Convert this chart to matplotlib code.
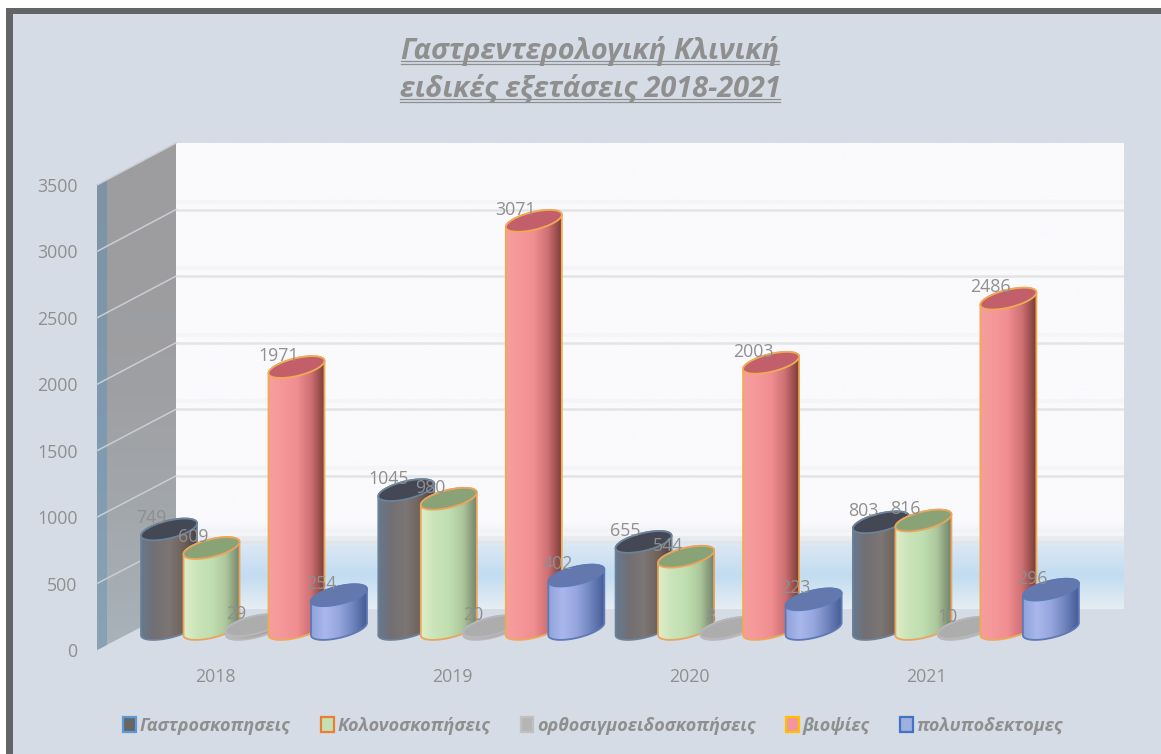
import matplotlib
matplotlib.use('Agg')
import matplotlib.pyplot as plt
import numpy as np
from matplotlib.colors import LinearSegmentedColormap
from matplotlib.patches import Patch, Polygon, Rectangle

years = ['2018', '2019', '2020', '2021']
series_names = ['Γαστροσκοπησεις', 'Κολονοσκοπήσεις', 'ορθοσιγμοειδοσκοπήσεις',
                'βιοψίες', 'πολυποδεκτομες']
gastro = [749, 1045, 655, 803]
colono = [609, 980, 544, 816]
ortho = [29, 20, 8, 10]
biopsies = [1971, 3071, 2003, 2486]
polyp = [254, 402, 223, 296]
y_ticks = [0, 500, 1000, 1500, 2000, 2500, 3000, 3500]

# body gradient left to right, top cap, rim, legend fill, legend edge
styles = [
    (['#66788f', '#736f72', '#7c7675', '#6f625b', '#45434a'], '#434854', '#6c8299', '#666666', '#5b9bd5'),
    (['#dfeec8', '#c9e4b8', '#c0dfb0', '#adc79c', '#73836a'], '#8aa376', '#eba45c', '#c5e0b4', '#ed7d31'),
    (['#bdbdbe', '#b4b4b5', '#a9a9aa', '#a6a6a6', '#a0a0a0'], '#adadae', '#b8b8ba', '#b5b5b5', '#c0c0c0'),
    (['#f59f9c', '#f6979a', '#f08e91', '#cf7074', '#7a3c36'], '#c25f6b', '#f0aa55', '#f4959b', '#ffc000'),
    (['#8ea3da', '#a9b7ec', '#96a6de', '#6f84bd', '#445b96'], '#6478ae', '#5f79b4', '#9db0e0', '#4472c4'),
]
wall_stops = [(0, '#fafafd'), (0.815, '#fafafd'), (0.85, '#e7ecf1'), (0.87, '#d8e6f3'),
              (0.93, '#c2dcf1'), (0.97, '#d6e6f2'), (1, '#e6edf3')]

W, H = 1161, 754
UNIT_X = 237.3      # px per group
UNIT_Y = 0.1329     # px per exam
BASE_X = 254.0      # px centre of first group
BASE_Y = 629.0      # px of value 0 on the bar plane
TEXT_GREY = '#8f8f8f'

plt.rcParams['font.family'] = ['Open Sans', 'DejaVu Sans']

fig = plt.figure(figsize=(W / 100, H / 100), dpi=100, facecolor='white')
ax = fig.add_axes([0, 0, 1, 1])
ax.axis('off')
xlim = (-BASE_X / UNIT_X, (W - BASE_X) / UNIT_X)
ylim = ((BASE_Y - H) / UNIT_Y, BASE_Y / UNIT_Y)


def px_x(x):
    return (np.asarray(x, dtype=float) - BASE_X) / UNIT_X


def px_y(y):
    return (BASE_Y - np.asarray(y, dtype=float)) / UNIT_Y


def poly(points, **kw):
    pts = [(px_x(x), px_y(y)) for x, y in points]
    p = Polygon(pts, closed=True, **kw)
    ax.add_patch(p)
    return p


def gradient(colors, extent, clip, vertical=False, zorder=1):
    cmap = LinearSegmentedColormap.from_list('g', colors)
    ramp = np.linspace(0, 1, 256)
    ramp = ramp[:, None] if vertical else ramp[None, :]
    im = ax.imshow(ramp, cmap=cmap, extent=extent, origin='upper', aspect='auto',
                   interpolation='bilinear', zorder=zorder)
    im.set_clip_path(clip)
    return im


# page: frame on the top and left only
ax.add_patch(Rectangle((px_x(6), px_y(H)), (W - 6) / UNIT_X, (H - 8) / UNIT_Y,
                       fc='#636466', ec='none', zorder=0))
ax.add_patch(Rectangle((px_x(13), px_y(H)), (W - 13) / UNIT_X, (H - 14) / UNIT_Y,
                       fc='#d5dce6', ec='none', zorder=0.1))

# back wall
back = poly([(176, 143), (1124, 143), (1124, 609), (176, 609)], fc='none', ec='none', zorder=1)
gradient(wall_stops, (px_x(176), px_x(1124), px_y(609), px_y(143)), back, vertical=True)

# side wall
side = poly([(97, 185), (176, 143), (176, 609), (97, 650)], fc='none', ec='none', zorder=1)
gradient(['#9d9da0', '#9d9da0', '#9fa0a3', '#a3a8ac', '#a8b3ba'],
         (px_x(97), px_x(176), px_y(650), px_y(143)), side, vertical=True, zorder=1.1)
strip = poly([(97, 185), (107, 180), (107, 645), (97, 650)], fc='none', ec='none', zorder=1)
gradient(['#7e93a5', '#7e9ab0', '#8aa2b5'],
         (px_x(97), px_x(107), px_y(650), px_y(180)), strip, vertical=True, zorder=1.2)

# gridlines on both walls
for v in y_ticks:
    back_y = 609 - v * 466 / 3500
    front_y = 650 - v * 465 / 3500
    if v > 0:
        ax.plot(px_x([97, 176]), px_y([front_y, back_y]), color='#c9ced4', lw=1.1, zorder=1.5)
        if v < 3500:
            ax.plot(px_x([176, 1124]), px_y([back_y, back_y]), color='#e3e4e6', lw=1.8,
                    solid_capstyle='butt', zorder=1.5)
            ax.plot(px_x([176, 1124]), px_y([back_y - 8, back_y - 8]), color='#f5f5f7', lw=3,
                    solid_capstyle='butt', zorder=1.4)

# cylinders
half_w = 28.0
slope = 0.22
half_h = 9.0
offsets = [-2, -1, 0, 1, 2]
gap = 42.5
all_series = [gastro, colono, ortho, biopsies, polyp]
z = 3.0
for g in range(len(years)):
    for s, values in enumerate(all_series):
        v = values[g]
        body_colors, cap, rim, _, _ = styles[s]
        cx = g + offsets[s] * gap / UNIT_X
        a = half_w / UNIT_X
        sk = slope * half_w / UNIT_Y
        b = half_h / UNIT_Y

        t_low = np.linspace(np.pi, 2 * np.pi, 80)
        t_high = np.linspace(0, np.pi, 80)
        xs = np.r_[cx + a * np.cos(t_low), cx + a * np.cos(t_high)]
        ys = np.r_[sk * np.cos(t_low) + b * np.sin(t_low),
                   v + sk * np.cos(t_high) + b * np.sin(t_high)]
        body = Polygon(np.c_[xs, ys], closed=True, fc='none', ec=rim, lw=1.3, zorder=z + 0.2)
        ax.add_patch(body)
        gradient(body_colors, (cx - a, cx + a, ys.min(), ys.max()), body, zorder=z)

        t = np.linspace(0, 2 * np.pi, 160)
        ax.add_patch(Polygon(np.c_[cx + a * np.cos(t), v + sk * np.cos(t) + b * np.sin(t)],
                             closed=True, fc=cap, ec=rim, lw=1.3, zorder=z + 0.3))
        z += 1

# value labels
for g in range(len(years)):
    for s, values in enumerate(all_series):
        ax.annotate(str(values[g]), (g + offsets[s] * gap / UNIT_X, values[g]),
                    xytext=(-13, 8), textcoords='offset points', ha='center', va='center',
                    color=TEXT_GREY, fontsize=12.8, zorder=100)

ax.set_xlim(xlim)
ax.set_ylim(ylim)

# front plane carries the tick labels
front = fig.add_axes([97 / W, 1 - 650 / H, 948 / W, 465 / H], facecolor='none')
front.set_xlim(-0.5, 3.5)
front.set_ylim(0, 3500)
front.set_xticks(range(len(years)), years)
front.set_yticks(y_ticks)
front.tick_params(axis='both', length=0, colors=TEXT_GREY, labelsize=12.8)
front.tick_params(axis='x', pad=13)
front.tick_params(axis='y', pad=14)
for spine in front.spines.values():
    spine.set_visible(False)

# title with a double underline
title_lines = ['Γαστρεντερολογική Κλινική', 'ειδικές εξετάσεις 2018-2021']
title_y = [51, 89]
renderer = fig.canvas.get_renderer()
for line, y in zip(title_lines, title_y):
    txt = fig.text(590 / W, 1 - y / H, line, ha='center', va='center', color=TEXT_GREY,
                   fontsize=20.8, fontstyle='italic', fontweight='bold')
    box = txt.get_window_extent(renderer)
    for dy in (10, 12.5):
        fig.add_artist(plt.Line2D([box.x0 / W, box.x1 / W], [1 - (y + dy) / H] * 2,
                                  color=TEXT_GREY, lw=0.9))

# legend
handles = [Patch(fc=st[3], ec=st[4], lw=1.6) for st in styles]
fig.legend(handles, series_names, loc='center', bbox_to_anchor=(593 / W, 1 - 726 / H), ncol=5,
           frameon=False, handlelength=0.7, handleheight=0.9, handletextpad=0.2,
           columnspacing=1.7, labelcolor=TEXT_GREY,
           prop={'size': 13, 'style': 'italic', 'weight': 'bold'})

fig.savefig('out.png', dpi=100, facecolor=fig.get_facecolor())
